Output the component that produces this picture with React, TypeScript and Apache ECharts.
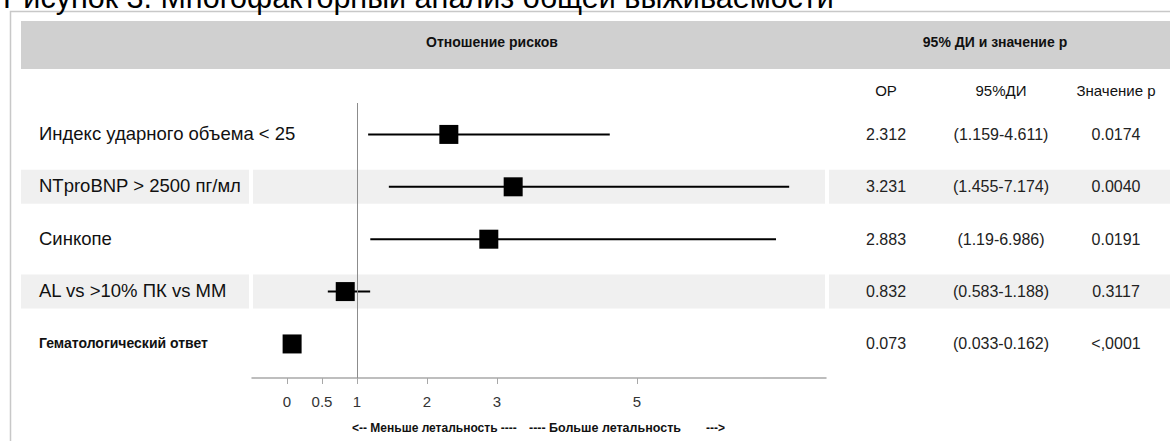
import React, { useEffect, useRef } from "react";
import * as echarts from "echarts";

const titleText = "Рисунок 3. Многофакторный анализ общей выживаемости";
const headerLeft = "Отношение рисков";
const headerRight = "95% ДИ и значение р";
const columnHeads = ["ОР", "95%ДИ", "Значение р"];
const factors = [
  "Индекс ударного объема < 25",
  "NTproBNP > 2500 пг/мл",
  "Синкопе",
  "AL vs >10% ПК vs ММ",
  "Гематологический ответ",
];
const hr = [2.312, 3.231, 2.883, 0.832, 0.073];
const ciLow = [1.159, 1.455, 1.19, 0.583, 0.033];
const ciHigh = [4.611, 7.174, 6.986, 1.188, 0.162];
const ciText = ["(1.159-4.611)", "(1.455-7.174)", "(1.19-6.986)", "(0.583-1.188)", "(0.033-0.162)"];
const pText = ["0.0174", "0.0040", "0.0191", "0.3117", "<,0001"];
const shadedRows = [false, true, false, true, false];
const boldRows = [false, false, false, false, true];
const tickValues = [0, 0.5, 1, 2, 3, 5];
const footLeft = "<-- Меньше летальность ----";
const footMid = "---- Больше летальность";
const footRight = "--->";

const FONT = "'Liberation Sans', Arial, Helvetica, sans-serif";

export default function App() {
  const ref = useRef<HTMLDivElement>(null);
  useEffect(() => {
    document.body.style.margin = "0";
    if (!ref.current) return;
    const chart = echarts.init(ref.current, undefined, { renderer: "svg" });
    const option: any = {
      animation: false,
      backgroundColor: "#ffffff",
      grid: { left: 252, right: 344, top: 103, bottom: 63, containLabel: false },
      xAxis: {
        type: "value",
        min: -0.5,
        max: 7.7,
        splitLine: { show: false },
        axisLine: { show: true, onZero: false, lineStyle: { color: "#a8a8a8", width: 1.5 } },
        axisTick: { show: true, customValues: tickValues, length: 6, lineStyle: { color: "#a8a8a8", width: 1 } },
        axisLabel: {
          show: true,
          customValues: tickValues,
          fontSize: 15,
          color: "#333333",
          fontFamily: FONT,
          margin: 16,
          formatter: (v: number) => String(v),
        },
      },
      yAxis: { type: "value", inverse: true, min: -0.6, max: 4.65, show: false },
      series: [
        {
          type: "custom",
          name: "ci",
          z: 3,
          data: factors.map((_, i) => [ciLow[i], ciHigh[i], i]),
          encode: { x: [0, 1], y: 2 },
          renderItem: (params: any, api: any) => {
            const p1 = api.coord([api.value(0), api.value(2)]);
            const p2 = api.coord([api.value(1), api.value(2)]);
            return {
              type: "line",
              shape: { x1: p1[0], y1: p1[1], x2: p2[0], y2: p2[1] },
              style: { stroke: "#000000", lineWidth: 2 },
            };
          },
        },
        {
          type: "scatter",
          name: "hr",
          z: 4,
          symbol: "rect",
          symbolSize: 19,
          itemStyle: { color: "#000000", opacity: 1 },
          data: hr.map((v, i) => [v, i]),
          markLine: {
            silent: true,
            symbol: ["none", "none"],
            label: { show: false },
            lineStyle: { color: "#8c8c8c", width: 1, type: "solid" },
            data: [{ xAxis: 1 }],
          },
        },
      ],
    };
    chart.setOption(option);

    const rowY = factors.map((_, i) => chart.convertToPixel({ gridIndex: 0 }, [0, i])[1]);
    const graphics: any[] = [];
    graphics.push({
      type: "rect",
      z: -20,
      shape: { x: 10.5, y: 11.5, width: 1200, height: 500 },
      style: { fill: "none", stroke: "#c8c8c8", lineWidth: 1.5 },
    });
    graphics.push({
      type: "text",
      z: 10,
      x: 3,
      y: -3,
      style: { text: titleText, fontSize: 30.5, fontFamily: FONT, fill: "#000000", align: "left", verticalAlign: "middle" },
    });
    graphics.push({
      type: "rect",
      z: -10,
      shape: { x: 21, y: 21, width: 1149, height: 48 },
      style: { fill: "#d0d0d0" },
    });
    graphics.push({
      type: "text",
      x: 492,
      y: 42,
      style: { text: headerLeft, fontSize: 14, fontWeight: "bold", fontFamily: FONT, fill: "#111111", align: "center", verticalAlign: "middle" },
    });
    graphics.push({
      type: "text",
      x: 995,
      y: 42,
      style: { text: headerRight, fontSize: 14, fontWeight: "bold", fontFamily: FONT, fill: "#111111", align: "center", verticalAlign: "middle" },
    });
    const colX = [886, 1001, 1116];
    columnHeads.forEach((t, k) => {
      graphics.push({
        type: "text",
        x: colX[k],
        y: 90,
        style: { text: t, fontSize: 15, fontFamily: FONT, fill: "#111111", align: "center", verticalAlign: "middle" },
      });
    });
    factors.forEach((f, i) => {
      const y = rowY[i];
      if (shadedRows[i]) {
        [[21, 249], [253, 825], [829, 1170]].forEach(([a, b]) => {
          graphics.push({
            type: "rect",
            z: -10,
            shape: { x: a, y: y - 17, width: b - a, height: 34 },
            style: { fill: "#f0f0f0" },
          });
        });
      }
      graphics.push({
        type: "text",
        x: 39,
        y: y - 1,
        style: {
          text: f,
          fontSize: boldRows[i] ? 14 : 18.5,
          fontWeight: boldRows[i] ? "bold" : "normal",
          fontFamily: FONT,
          fill: "#111111",
          align: "left",
          verticalAlign: "middle",
        },
      });
      const vals = [hr[i].toFixed(3), ciText[i], pText[i]];
      vals.forEach((t, k) => {
        graphics.push({
          type: "text",
          x: colX[k],
          y: y,
          style: { text: t, fontSize: 16, fontFamily: FONT, fill: "#222222", align: "center", verticalAlign: "middle" },
        });
      });
    });
    const footY = 428;
    graphics.push({
      type: "text",
      x: 352,
      y: footY,
      style: { text: footLeft, fontSize: 12, fontWeight: "bold", fontFamily: FONT, fill: "#111111", align: "left", verticalAlign: "middle" },
    });
    graphics.push({
      type: "text",
      x: 529,
      y: footY,
      style: { text: footMid, fontSize: 12.5, fontWeight: "bold", fontFamily: FONT, fill: "#111111", align: "left", verticalAlign: "middle" },
    });
    graphics.push({
      type: "text",
      x: 725,
      y: footY,
      style: { text: footRight, fontSize: 12, fontWeight: "bold", fontFamily: FONT, fill: "#111111", align: "right", verticalAlign: "middle" },
    });
    chart.setOption({ graphic: graphics });

    return () => {
      chart.dispose();
    };
  }, []);
  return <div ref={ref} style={{ width: 1170, height: 441 }} />;
}
